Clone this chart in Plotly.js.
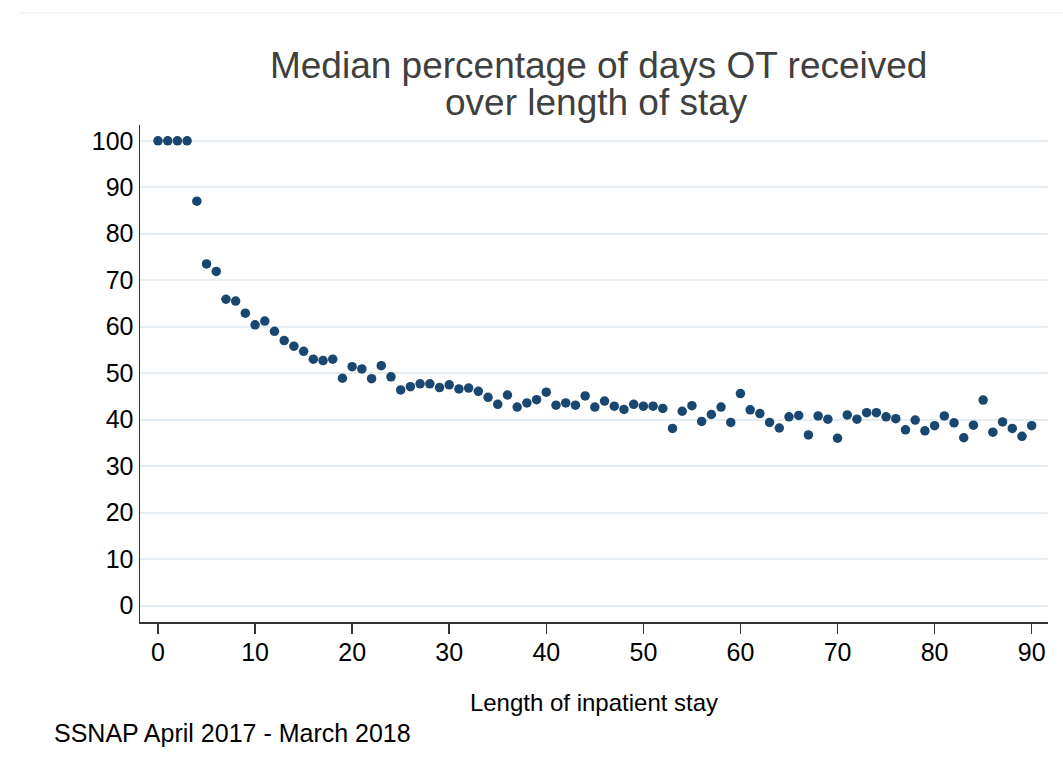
<!DOCTYPE html>
<html>
<head>
<meta charset="utf-8">
<script src="https://cdn.plot.ly/plotly-3.0.1.min.js"></script>
<style>html,body{margin:0;padding:0;background:#fff;}#chart{width:1063px;height:773px;}</style>
</head>
<body>
<div id="chart"></div>
<script>
const lengthOfStay = [0,1,2,3,4,5,6,7,8,9,10,11,12,13,14,15,16,17,18,19,20,21,22,23,24,25,26,27,28,29,30,31,32,33,34,35,36,37,38,39,40,41,42,43,44,45,46,47,48,49,50,51,52,53,54,55,56,57,58,59,60,61,62,63,64,65,66,67,68,69,70,71,72,73,74,75,76,77,78,79,80,81,82,83,84,85,86,87,88,89,90];
const medianPctOT = [100,100,100,100,87.0,73.5,71.9,65.9,65.5,62.9,60.4,61.2,59.0,57.0,55.8,54.7,53.0,52.7,53.0,48.9,51.4,50.9,48.8,51.6,49.2,46.4,47.1,47.7,47.7,46.9,47.5,46.6,46.8,46.1,44.8,43.3,45.3,42.7,43.6,44.3,45.9,43.1,43.6,43.1,45.1,42.7,44.0,42.9,42.2,43.3,42.9,42.9,42.4,38.1,41.8,43.0,39.6,41.1,42.7,39.4,45.6,42.1,41.3,39.4,38.2,40.6,40.9,36.7,40.8,40.1,36.0,41.0,40.1,41.5,41.5,40.6,40.2,37.8,39.9,37.6,38.7,40.8,39.3,36.1,38.8,44.2,37.3,39.5,38.1,36.4,38.7];
const xTicks = [0,10,20,30,40,50,60,70,80,90];
const yTicks = [0,10,20,30,40,50,60,70,80,90,100];

const FONT = 'Arial, "Liberation Sans", Helvetica, sans-serif';

const trace = {
  type: 'scatter',
  mode: 'markers',
  x: lengthOfStay,
  y: medianPctOT,
  marker: {color: '#1a476f', size: 9.5, line: {width: 0}},
  hoverinfo: 'x+y',
  showlegend: false
};

const layout = {
  width: 1063,
  height: 773,
  margin: {l: 140, r: 15, t: 125, b: 151, pad: 0},
  paper_bgcolor: '#ffffff',
  plot_bgcolor: '#ffffff',
  font: {family: FONT, color: '#000000', size: 25},
  title: {
    text: 'Median percentage of days OT received',
    font: {family: FONT, size: 37, color: '#404040'},
    x: 598.7 / 1063, xanchor: 'center', xref: 'container',
    y: 1 - 65 / 773, yanchor: 'middle', yref: 'container'
  },
  xaxis: {
    range: [-1.854, 91.68],
    tickvals: xTicks,
    ticktext: xTicks.map(String),
    ticks: 'outside', ticklen: 10, tickwidth: 1.5, tickcolor: '#333333',
    ticklabelstandoff: -3,
    showline: true, linecolor: '#333333', linewidth: 1.5,
    showgrid: false, zeroline: false,
    tickfont: {family: FONT, size: 25, color: '#000000'},
    title: {text: 'Length of inpatient stay', font: {family: FONT, size: 24, color: '#000000'}, standoff: 29}
  },
  yaxis: {
    range: [-3.55, 103.4],
    tickvals: yTicks,
    ticktext: yTicks.map(String),
    ticks: '', ticklabelstandoff: 0,
    showline: true, linecolor: '#333333', linewidth: 1.5,
    showgrid: true, gridcolor: '#e4edf1', gridwidth: 2,
    zeroline: false,
    tickfont: {family: FONT, size: 25, color: '#000000'}
  },
  annotations: [
    {
      text: 'over length of stay', showarrow: false,
      xref: 'paper', yref: 'paper',
      x: (596 - 140) / 908, xanchor: 'center',
      y: 1 + (125 - 102) / 497, yanchor: 'middle',
      font: {family: FONT, size: 37, color: '#404040'}
    },
    {
      text: 'SSNAP April 2017 - March 2018', showarrow: false,
      xref: 'paper', yref: 'paper',
      x: (52 - 140) / 908, xanchor: 'left',
      y: -(733 - 622) / 497, yanchor: 'middle',
      font: {family: FONT, size: 25, color: '#000000'}
    }
  ],
  shapes: [
    {type: 'line', xref: 'paper', yref: 'paper',
     x0: (19 - 140) / 908, x1: (1063 - 140) / 908,
     y0: 1 + (125 - 13) / 497, y1: 1 + (125 - 13) / 497,
     line: {color: '#f0f0f0', width: 1}}
  ]
};

Plotly.newPlot('chart', [trace], layout, {displayModeBar: false, staticPlot: true});
</script>
</body>
</html>
